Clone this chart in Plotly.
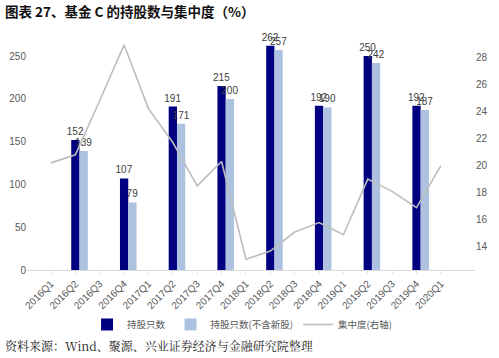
import plotly.graph_objects as go

categories = ["2016Q1", "2016Q2", "2016Q3", "2016Q4", "2017Q1", "2017Q2", "2017Q3", "2017Q4",
              "2018Q1", "2018Q2", "2018Q3", "2018Q4", "2019Q1", "2019Q2", "2019Q3", "2019Q4", "2020Q1"]
holdings = [None, 152, None, 107, None, 191, None, 215, None, 262, None, 192, None, 250, None, 192, None]
holdings_ex_new = [None, 139, None, 79, None, 171, None, 200, None, 257, None, 190, None, 242, None, 187, None]
concentration = [20.2, 20.8, 24.8, 28.9, 24.2, 21.7, 18.5, 20.3, 13.1, 13.7, 15.1, 15.8, 14.9, 19.0, 18.1, 16.9, 20.0]

tick_font = dict(family="Liberation Sans, Arial, sans-serif", size=10, color="#595959")

fig = go.Figure()
fig.add_trace(go.Bar(
    x=categories, y=holdings, name="持股只数", marker=dict(color="#000080", line=dict(width=0)),
    offset=-0.17, width=0.34, texttemplate="%{y}", textposition="outside",
    textfont=dict(family="Liberation Sans, Arial, sans-serif", size=10, color="#404040"),
    constraintext="none", cliponaxis=False,
))
fig.add_trace(go.Bar(
    x=categories, y=holdings_ex_new, name="持股只数(不含新股)", marker=dict(color="#ADC2E0", line=dict(width=0)),
    offset=0.17, width=0.34, texttemplate="%{y}", textposition="outside",
    textfont=dict(family="Liberation Sans, Arial, sans-serif", size=10, color="#404040"),
    constraintext="none", cliponaxis=False,
))
fig.add_trace(go.Scatter(
    x=categories, y=concentration, name="集中度(右轴)", mode="lines",
    line=dict(color="#BDBDBD", width=1.6), yaxis="y2",
))

fig.update_layout(
    width=499, height=358,
    margin=dict(l=27, r=24, t=30, b=88.3),
    paper_bgcolor="white", plot_bgcolor="white",
    barmode="overlay",
    showlegend=True,
    legend=dict(orientation="h", x=0.48, xanchor="center", y=-0.227, yanchor="middle",
                font=dict(family="Noto Sans CJK SC", size=9.5, color="#595959"),
                itemwidth=30, tracegroupgap=0, bgcolor="rgba(0,0,0,0)"),
    xaxis=dict(type="category", range=[-0.985, 17.4], showgrid=False, showline=True,
               linecolor="#D9D9D9", linewidth=1, ticks="outside", ticklen=3, tickcolor="#E3E3E3",
               tickangle=-45, tickfont=tick_font, automargin=False),
    yaxis=dict(range=[0, 280.5], tickvals=[0, 50, 100, 150, 200, 250], showgrid=False,
               zeroline=False, showline=False, tickfont=tick_font, automargin=False),
    yaxis2=dict(range=[12.3, 30], tickvals=[14, 16, 18, 20, 22, 24, 26, 28], overlaying="y",
                side="right", showgrid=False, zeroline=False, showline=False,
                tickfont=tick_font, automargin=False),
    font=dict(family="Noto Sans CJK SC"),
)

fig.add_annotation(
    text="<b>图表 27、基金 C 的持股数与集中度（%）</b>", xref="paper", yref="paper",
    x=(3 - 27) / 448, y=(269.7 - 11) / 239.7, xanchor="left", yanchor="middle", showarrow=False,
    font=dict(family="Noto Sans CJK SC", size=13.5, color="#111111"),
)
fig.add_annotation(
    text="资料来源：Wind、聚源、兴业证券经济与金融研究院整理", xref="paper", yref="paper",
    x=(3 - 27) / 448, y=(269.7 - 345) / 239.7, xanchor="left", yanchor="middle", showarrow=False,
    font=dict(family="Noto Serif CJK SC, Noto Sans CJK SC", size=12, color="#222222"),
)

fig.write_html("out.html", config={"displayModeBar": False},
               post_script="document.body.style.margin='0';document.body.style.overflow='hidden';")
